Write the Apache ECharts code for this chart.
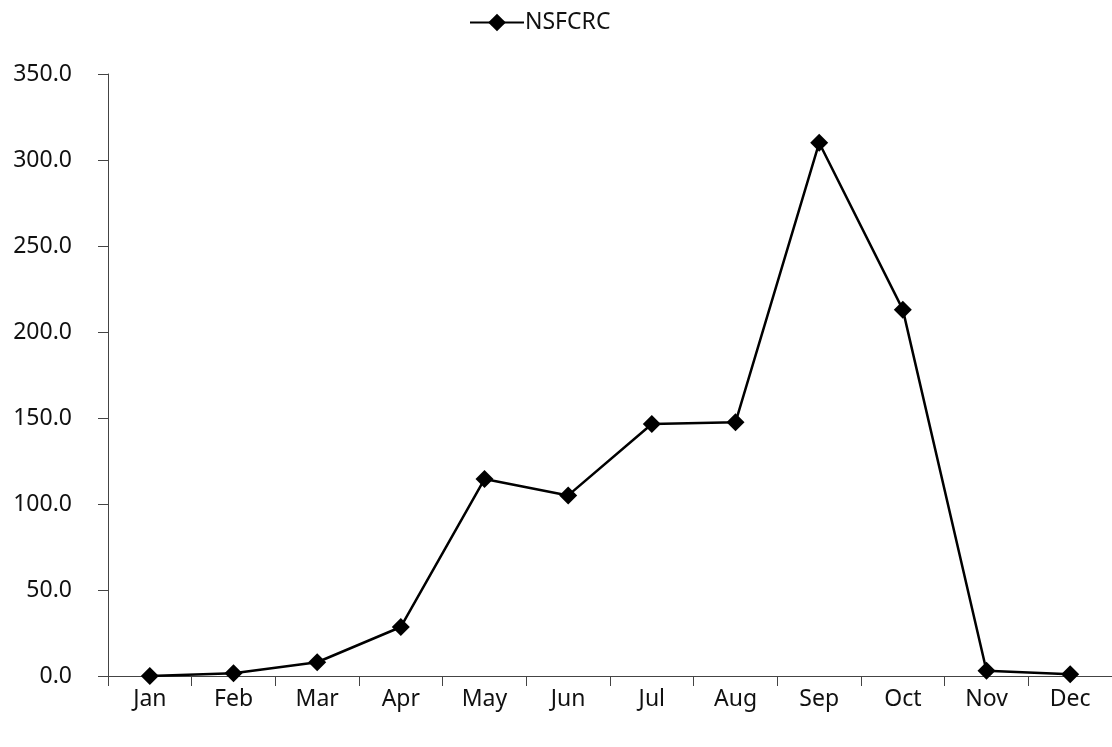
<!DOCTYPE html>
<html>
<head>
<meta charset="utf-8">
<script src="https://cdn.jsdelivr.net/npm/echarts@6/dist/echarts.min.js"></script>
<style>
html,body{margin:0;padding:0;background:#fff;}
#c{width:1112px;height:747px;}
</style>
</head>
<body>
<div id="c"></div>
<script>
var categories = ['Jan','Feb','Mar','Apr','May','Jun','Jul','Aug','Sep','Oct','Nov','Dec'];
var nsfcrc = [0, 1.6, 8, 28.5, 114.5, 105, 146.5, 147.5, 310, 213, 3, 1];
var seriesName = 'NSFCRC';

var chart = echarts.init(document.getElementById('c'));
var font = 'Noto Sans';
chart.setOption({
  animation: false,
  backgroundColor: '#fff',
  legend: {
    top: 6,
    left: 464,
    itemWidth: 54,
    itemHeight: 22,
    itemGap: 4,
    textStyle: {fontFamily: font, fontSize: 23, color: '#111', padding: [0,0,0,-4]},
    data: [{name: seriesName}]
  },
  grid: {left: 108, right: 0, top: 74, bottom: 71, containLabel: false},
  xAxis: {
    type: 'category',
    data: categories,
    boundaryGap: true,
    axisLine: {lineStyle: {color: '#444', width: 1}},
    axisTick: {show: true, inside: false, length: 10, alignWithLabel: false, lineStyle: {color: '#444'}},
    axisLabel: {fontFamily: font, fontSize: 23, color: '#111', margin: 12},
    splitLine: {show: false}
  },
  yAxis: {
    type: 'value',
    min: 0, max: 350, interval: 50,
    axisLine: {show: true, lineStyle: {color: '#444', width: 1}},
    axisTick: {show: true, length: 10, lineStyle: {color: '#444'}},
    axisLabel: {fontFamily: font, fontSize: 23, color: '#111', margin: 36,
      formatter: function(v){ return v.toFixed(1); }},
    splitLine: {show: false}
  },
  series: [{
    name: seriesName,
    type: 'line',
    data: nsfcrc,
    symbol: 'diamond',
    symbolSize: 18,
    lineStyle: {color: '#000', width: 2.5},
    itemStyle: {color: '#000'}
  }]
});
</script>
</body>
</html>
